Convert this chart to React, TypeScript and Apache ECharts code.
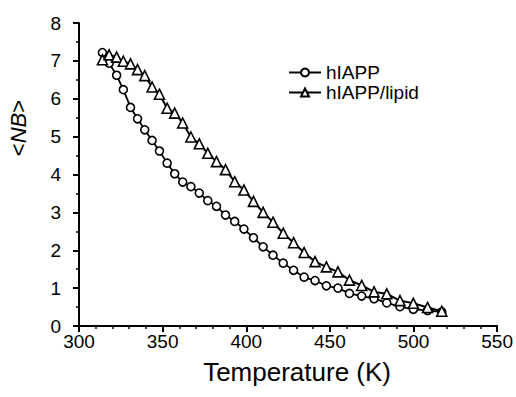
import React, { useEffect, useRef } from "react";
import * as echarts from "echarts";

// Simulation temperatures (K)
const temperatures = [
  314, 318, 322.5, 326.5, 330.8, 335, 339.3, 343.7, 348.1, 352.7, 357.2, 362,
  366.9, 371.9, 377, 382.2, 387.6, 393.1, 398.6, 404.3, 410.1, 416, 422.1,
  428.3, 434.6, 441.1, 447.9, 454.8, 461.7, 469, 476.4, 484, 491.9, 499.9,
  508.4, 516.9,
];

// Average number of bonds <N_B>
const hIAPP = [
  7.22, 6.94, 6.62, 6.24, 5.77, 5.47, 5.18, 4.9, 4.62, 4.3, 4.02, 3.8, 3.68,
  3.51, 3.31, 3.16, 2.93, 2.76, 2.56, 2.33, 2.09, 1.87, 1.66, 1.47, 1.29, 1.2,
  1.06, 1.0, 0.86, 0.79, 0.72, 0.61, 0.51, 0.44, 0.41, 0.37,
];

const hIAPPLipid = [
  7.03, 7.16, 7.1, 6.99, 6.92, 6.77, 6.61, 6.31, 6.12, 5.75, 5.62, 5.36, 4.99,
  4.81, 4.56, 4.34, 4.13, 3.81, 3.59, 3.29, 3.0, 2.74, 2.45, 2.2, 1.94, 1.7,
  1.56, 1.43, 1.21, 1.07, 0.9, 0.85, 0.67, 0.6, 0.49, 0.39,
];

const seriesNames = ["hIAPP", "hIAPP/lipid"];
const xTicks = { min: 300, max: 550, interval: 50 };
const yTicks = { min: 0, max: 8, interval: 1 };

const FONT = "Liberation Sans, Arial, Helvetica, sans-serif";

export default function App() {
  const ref = useRef<HTMLDivElement>(null);

  useEffect(() => {
    document.body.style.margin = "0";
    if (!ref.current) return;
    const chart = echarts.init(ref.current, undefined, { renderer: "svg" });

    const pairs = (ys: number[]) => temperatures.map((t, i) => [t, ys[i]]);

    chart.setOption({
      animation: false,
      backgroundColor: "#ffffff",
      textStyle: { fontFamily: FONT, color: "#000" },
      grid: { left: 79, right: 18, top: 23, bottom: 71, containLabel: false },
      legend: {
        orient: "vertical",
        left: 283,
        top: 58,
        itemWidth: 32,
        itemHeight: 10,
        itemGap: 1,
        data: seriesNames,
        textStyle: {
          fontFamily: FONT,
          fontSize: 19,
          lineHeight: 18,
          color: "#000",
        },
      },
      xAxis: {
        type: "value",
        min: xTicks.min,
        max: xTicks.max,
        interval: xTicks.interval,
        name: "Temperature (K)",
        nameLocation: "middle",
        nameGap: 33,
        nameTextStyle: {
          fontFamily: FONT,
          fontSize: 26,
          color: "#000",
          padding: [0, 0, 0, 18],
        },
        axisLine: { lineStyle: { color: "#000", width: 2 } },
        axisTick: { length: 6, lineStyle: { color: "#000", width: 2 } },
        minorTick: {
          show: true,
          splitNumber: 5,
          length: 3,
          lineStyle: { color: "#000", width: 1.5 },
        },
        splitLine: { show: false },
        axisLabel: {
          fontFamily: FONT,
          fontSize: 19,
          color: "#000",
          margin: 6,
        },
      },
      yAxis: {
        type: "value",
        min: yTicks.min,
        max: yTicks.max,
        interval: yTicks.interval,
        axisLine: { show: true, lineStyle: { color: "#000", width: 2 } },
        axisTick: { show: true, length: 6, lineStyle: { color: "#000", width: 2 } },
        minorTick: {
          show: true,
          splitNumber: 2,
          length: 3,
          lineStyle: { color: "#000", width: 1.5 },
        },
        splitLine: { show: false },
        axisLabel: {
          fontFamily: FONT,
          fontSize: 19,
          color: "#000",
          margin: 18,
        },
      },
      graphic: [
        {
          type: "text",
          x: 18,
          y: 128,
          rotation: Math.PI / 2,
          style: {
            text: "<{i|NB}>",
            fontFamily: FONT,
            fontSize: 22,
            fill: "#000",
            align: "center",
            verticalAlign: "middle",
            rich: {
              i: { fontFamily: FONT, fontSize: 22, fontStyle: "italic", fill: "#000" },
            },
          },
        },
      ],
      series: [
        {
          name: seriesNames[0],
          type: "line",
          data: pairs(hIAPP),
          symbol: "circle",
          symbolSize: 8,
          showAllSymbol: true,
          lineStyle: { color: "#000", width: 1.8 },
          itemStyle: { color: "#fff", borderColor: "#000", borderWidth: 1.6 },
          z: 2,
        },
        {
          name: seriesNames[1],
          type: "line",
          data: pairs(hIAPPLipid),
          symbol: "triangle",
          symbolSize: 10,
          showAllSymbol: true,
          lineStyle: { color: "#000", width: 2 },
          itemStyle: { color: "#fff", borderColor: "#000", borderWidth: 1.6 },
          z: 3,
        },
      ],
    });

    return () => chart.dispose();
  }, []);

  return <div ref={ref} style={{ width: 516, height: 397 }} />;
}
